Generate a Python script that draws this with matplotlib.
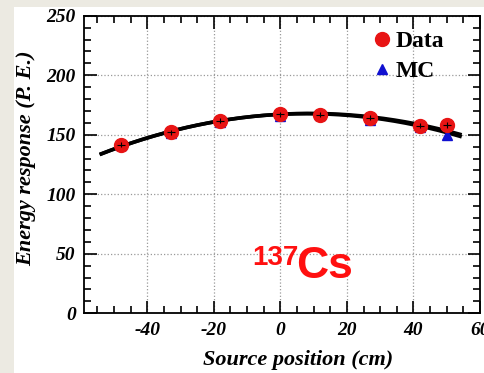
import numpy as np
import matplotlib.pyplot as plt
from matplotlib.ticker import MultipleLocator
from matplotlib.patches import Rectangle

# source positions (cm) and energy response (P.E.)
pos = [-48, -33, -18, 0, 12, 27, 42, 50]
data_pe = [141.7, 152.0, 161.7, 167.2, 166.7, 164.4, 157.5, 157.8]
data_err = [2.0, 2.0, 2.0, 2.0, 2.0, 2.0, 2.0, 2.5]
mc_pe = [141.0, 151.5, 161.0, 165.8, 166.5, 162.5, 156.7, 149.4]

# fit curves
fit_x = [-54.3, -40, -29, -18, -9.7, 0, 12, 29, 42, 54.5]
fit_data = [134.0, 146.0, 155.5, 161.5, 166.7, 167.3, 167.5, 164.0, 157.5, 150.8]
fit_mc = [134.0, 146.0, 155.5, 161.5, 166.5, 167.2, 167.3, 163.5, 156.5, 148.8]

x_ticks = [-40, -20, 0, 20, 40, 60]
y_ticks = [0, 50, 100, 150, 200, 250]

serif_bi = dict(family='Liberation Serif', weight='bold', style='italic')

fig = plt.figure(figsize=(4.85, 3.73), dpi=100)
fig.patch.set_facecolor('#ECEAE2')
fig.patches.append(Rectangle((14 / 485, 0), 1, 1 - 7 / 373, transform=fig.transFigure,
                             facecolor='white', edgecolor='none', zorder=-10))

ax = fig.add_axes([84 / 485, 1 - 313.3 / 373, (480 - 84) / 485, (313.3 - 15.7) / 373])
ax.set_xlim(-59, 58.8)
ax.set_ylim(0, 250)

# smooth the sampled curves with a quadratic
xf = np.linspace(fit_x[0], fit_x[-1], 200)
for ys in (fit_data, fit_mc):
    c = np.polyfit(fit_x, ys, 2)
    ax.plot(xf, np.polyval(c, xf), color='black', lw=2.6, zorder=3, solid_capstyle='butt')

ax.plot(pos, mc_pe, linestyle='none', marker='^', color='#1010D0', ms=7, zorder=4, label='MC')
ax.plot(pos, data_pe, linestyle='none', marker='o', color='#E81414', ms=10, zorder=5, label='Data')
ax.errorbar(pos, data_pe, yerr=data_err, xerr=1.2, fmt='none', ecolor='black',
            elinewidth=0.8, capsize=0, zorder=6)

ax.set_xticks(x_ticks)
ax.set_yticks(y_ticks)
ax.set_xticklabels([str(t) for t in x_ticks], **serif_bi, fontsize=14)
ax.set_yticklabels([str(t) for t in y_ticks], **serif_bi, fontsize=14)
ax.xaxis.set_minor_locator(MultipleLocator(5))
ax.yaxis.set_minor_locator(MultipleLocator(10))
ax.tick_params(which='both', direction='in', top=True, right=True, width=1.2)
ax.tick_params(which='major', length=9, pad=6)
ax.tick_params(which='minor', length=5)
ax.grid(True, which='major', linestyle=':', color='#999999', lw=0.9)
for s in ax.spines.values():
    s.set_linewidth(1.3)

ax.set_xlabel('Source position (cm)', **serif_bi, fontsize=16)
ax.xaxis.set_label_coords(0.54, -0.125)
ax.set_ylabel('Energy response (P. E.)', **serif_bi, fontsize=16)
ax.yaxis.set_label_coords(-0.122, 0.52)

h, l = ax.get_legend_handles_labels()
leg = ax.legend([h[1], h[0]], [l[1], l[0]], loc='upper left', bbox_to_anchor=(0.682, 1.022),
                frameon=False, handlelength=0.6, handletextpad=0.25, labelspacing=0.36,
                prop=dict(family='Liberation Serif', weight='bold', size=17))

fig.text(252 / 485, 1 - 265 / 373, '137', color='#FF1010', fontsize=20,
         family='Liberation Sans', weight='bold', va='baseline')
fig.text(296 / 485, 1 - 278 / 373, 'Cs', color='#FF1010', fontsize=32,
         family='Liberation Sans', weight='bold', va='baseline')

fig.savefig('out.png', dpi=100, facecolor=fig.get_facecolor())
